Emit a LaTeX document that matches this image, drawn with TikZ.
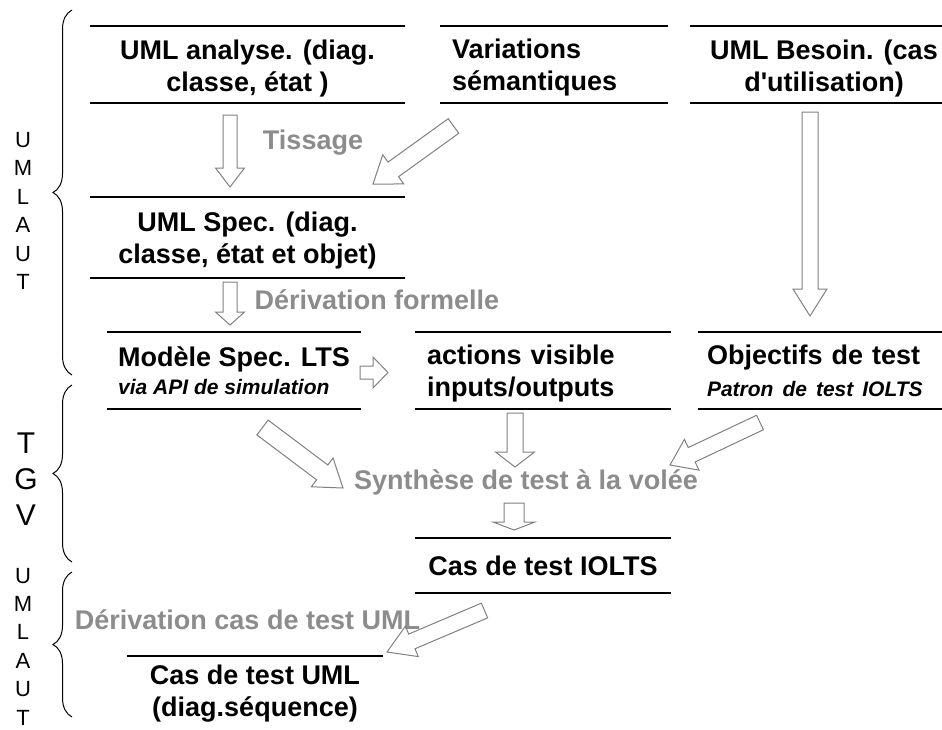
\documentclass[tikz,border=0pt]{standalone}
\usepackage{fontspec}
\setmainfont{Liberation Sans}[Ligatures=TeXOff]
\usetikzlibrary{calc}
\usetikzlibrary{decorations.pathreplacing}
\definecolor{labelgray}{HTML}{8C8C8C}
\definecolor{arrowgray}{HTML}{808080}

\begin{document}
\begin{tikzpicture}[x=1pt,y=-1pt,
    bar/.style={line width=1.5pt},
    box/.style={inner sep=0pt,font=\bfseries\fontsize{27}{32}\selectfont,align=center},
    lbox/.style={box,align=left,inner xsep=12pt},
    glabel/.style={inner sep=0pt,font=\bfseries\fontsize{27}{32}\selectfont,text=labelgray},
    hollow/.style={draw=arrowgray,line width=1pt},
    side/.style={inner sep=0pt,align=center,font=\fontsize{22}{28.4}\selectfont},
    curly/.style={decorate,decoration={brace,amplitude=19pt},line width=1pt}]
    \useasboundingbox (0,0) rectangle (942,729);
    % boxes
    \node[box,minimum width=315pt,minimum height=77pt] (ana) at (247.5,64.5)
        {\rule{0pt}{27pt}UML analyse. (diag.\\classe, état )};
    \node[lbox,text width=204pt,minimum height=77pt] (var) at (554,64.5)
        {\rule{0pt}{26pt}Variations\\sémantiques};
    \node[box,minimum width=268pt,minimum height=77pt] (bes) at (824,64.5)
        {\rule{0pt}{27pt}UML Besoin. (cas\\d'utilisation)};
    \node[box,minimum width=315pt,minimum height=81pt] (spec) at (247.5,237.5)
        {\rule{0pt}{25pt}UML Spec. (diag.\\classe, état et objet)};
    \node[box,align=left,minimum width=254pt,minimum height=77pt] (mod) at (234,370.5)
        {Modèle Spec. LTS\\[-4pt]{\fontsize{21}{24}\selectfont\itshape via API de simulation}};
    \node[lbox,text width=232pt,minimum height=77pt] (act) at (543,370.5)
        {\rule{0pt}{25pt}actions visible\\inputs/outputs};
    \node[lbox,inner xsep=9pt,text width=226pt,minimum height=77pt] (obj) at (820,370.5)
        {Objectifs de test\\{\fontsize{21}{24}\selectfont\itshape Patron de test IOLTS}};
    \node[box,minimum width=256pt,minimum height=55pt] (iolts) at (543,565.5) {Cas de test IOLTS};
    \node[box,minimum width=256pt,minimum height=76pt] (cuml) at (255,694) {Cas de test UML\\(diag.séquence)};
    \foreach \n in {ana,var,bes,spec,mod,act,obj,iolts}
        \draw[bar] (\n.north west) -- (\n.north east) (\n.south west) -- (\n.south east);
    \draw[bar] (cuml.north west) -- (cuml.north east);
    % grey labels
    \node[glabel] (tis) at (313,143) {Tissage};
    \node[glabel] (dfor) at (377,300) {Dérivation formelle};
    \node[glabel] (syn) at (526,482) {Synthèse de test à la volée};
    \node[glabel] (dcas) at (247.5,620) {Dérivation cas de test UML};
    % hollow arrows
    \coordinate (tisT) at (230,115);     \coordinate (tisH) at (230,187);
    \coordinate (varT) at (453.5,126);   \coordinate (varH) at (373,184);
    \coordinate (forT) at (230,282);     \coordinate (forH) at (230,325);
    \coordinate (besT) at (810,112);     \coordinate (besH) at (810,316);
    \coordinate (modT) at (360,372.5);   \coordinate (modH) at (388,372.5);
    \coordinate (ltsT) at (262.5,427.5); \coordinate (ltsH) at (343,488);
    \coordinate (actT) at (515,413);     \coordinate (actH) at (515,467);
    \coordinate (objT) at (760,422.5);   \coordinate (objH) at (670,465);
    \coordinate (synT) at (514,503);     \coordinate (synH) at (514,530);
    \coordinate (tcT) at (484.5,610.5);  \coordinate (tcH) at (387,652);
    \foreach \t/\h/\s/\w/\l in {tisT/tisH/7pt/14.5pt/19pt,varT/varH/9pt/18pt/25pt,
            forT/forH/7pt/14.5pt/13pt,besT/besH/8pt/17pt/27pt,modT/modH/6.5pt/15.5pt/15pt,
            ltsT/ltsH/9.3pt/18pt/26pt,actT/actH/8pt/19.5pt/15pt,objT/objH/8pt/17pt/24pt,
            synT/synH/10pt/21pt/8pt,tcT/tcH/8pt/16.5pt/27pt}{
        \coordinate (hb) at ($(\h)!\l!(\t)$);
        \draw[hollow] ($(\t)!\s!90:(\h)$) -- ($(hb)!\s!90:(\h)$) -- ($(hb)!\w!90:(\h)$) -- (\h)
            -- ($(hb)!\w!-90:(\h)$) -- ($(hb)!\s!-90:(\h)$) -- ($(\t)!\s!-90:(\h)$) -- cycle;
    }
    % braces and side labels
    \draw[curly] (72,375) -- (72,10);
    \draw[curly] (72,562) -- (72,385);
    \draw[curly] (72,717) -- (72,572);
    \node[side] (ul1) at (23,211) {U\\M\\L\\A\\U\\T};
    \node[side,font=\fontsize{30}{36}\selectfont] (tgv) at (26,479) {T\\G\\V};
    \node[side] (ul2) at (23,646.5) {U\\M\\L\\A\\U\\T};
\end{tikzpicture}
\end{document}
